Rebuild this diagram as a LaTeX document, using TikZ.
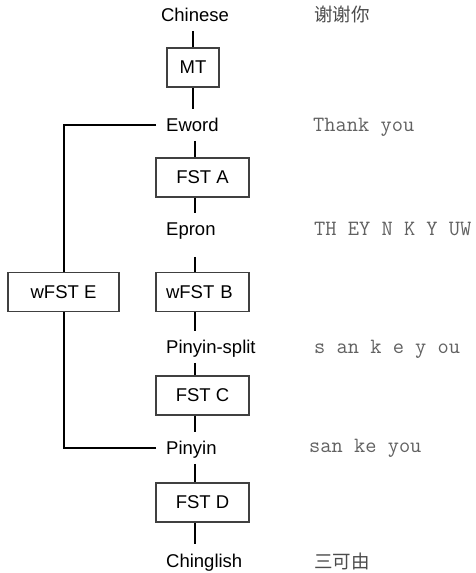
\documentclass[tikz,border=0pt]{standalone}
\usepackage{fontspec}
\setmainfont{Liberation Sans}
\newfontfamily\cjk{Noto Sans CJK SC}
\begin{document}
\begin{tikzpicture}[x=1pt,y=-1pt,
  lbl/.style={anchor=base west, inner xsep=10pt, inner ysep=9pt, text height=13.4pt, text depth=0pt, font=\fontsize{18.5}{20}\selectfont},
  boxn/.style={draw=black!75, line width=1.1pt, rectangle, minimum height=39pt, inner sep=0pt, font=\fontsize{18.5}{20}\selectfont},
  ex/.style={anchor=base west, inner sep=0pt, text=black!70},
  mono/.style={ex, text=black!62, font=\ttfamily\fontsize{21.8}{22}\selectfont},
  conn/.style={line width=2pt, black}]
\useasboundingbox (0,0) rectangle (475,573);
\coordinate (spine) at (195,0);
% state labels
\node[lbl, anchor=base, inner xsep=0pt] (chinese) at (195,21.7) {Chinese};
\node[lbl] (eword) at (156,131.7) {Eword};
\node[lbl] (epron) at (156,235.7) {Epron};
\node[lbl] (psplit) at (156,353.7) {Pinyin-split};
\node[lbl] (pinyin) at (156,454.7) {Pinyin};
\node[lbl] (chinglish) at (156,567) {Chinglish};
% boxes
\node[boxn, minimum width=52pt] (mt) at (193,67.5) {MT};
\node[boxn, minimum width=93pt] (fsta) at (202.5,177.5) {FST A};
\node[boxn, minimum width=93pt, text width=73pt, align=left] (wfstb) at (202.5,292) {wFST B};
\node[boxn, minimum width=93pt] (fstc) at (202.5,395.5) {FST C};
\node[boxn, minimum width=93pt] (fstd) at (202.5,502.5) {FST D};
\node[boxn, minimum width=111pt] (wfste) at (63.5,292) {wFST E};
% examples
\node[ex, font=\cjk\fontsize{18.5}{20}\selectfont] (ex1) at (314,21.5) {谢谢你};
\node[mono] (ex2) at (313,131) {Thank you};
\node[mono] (ex3) at (314,235) {TH EY N K Y UW};
\node[mono] (ex4) at (314,353) {s an k e y ou};
\node[mono] (ex5) at (309,452) {san ke you};
\node[ex, font=\cjk\fontsize{18.5}{20}\selectfont] (ex6) at (314,568) {三可由};
% connectors
\draw[conn] (chinese.south -| mt.north) -- (mt.north);
\draw[conn] (mt.south) -- (mt.south |- eword.north);
\draw[conn] (eword.south -| spine) -- (fsta.north -| spine);
\draw[conn] (fsta.south -| spine) -- (epron.north -| spine);
\draw[conn, shorten <=12pt] (epron.south -| spine) -- (wfstb.north -| spine);
\draw[conn] (wfstb.south -| spine) -- (psplit.north -| spine);
\draw[conn] (psplit.south -| spine) -- (fstc.north -| spine);
\draw[conn] (fstc.south -| spine) -- (pinyin.north -| spine);
\draw[conn] (pinyin.south -| spine) -- (fstd.north -| spine);
\draw[conn] (fstd.south -| spine) -- (chinglish.north -| spine);
\draw[conn] (eword.west) -| (wfste.north);
\draw[conn] (pinyin.west) -| (wfste.south);
\end{tikzpicture}
\end{document}
